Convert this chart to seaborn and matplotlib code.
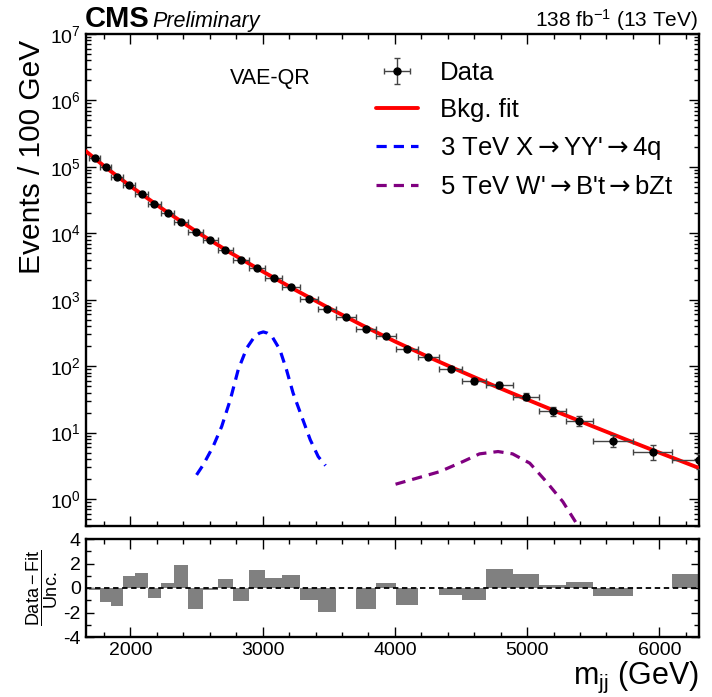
import numpy as np
import pandas as pd
import seaborn as sns
import matplotlib
matplotlib.use("Agg")
import matplotlib.pyplot as plt
from matplotlib.ticker import LogLocator, MultipleLocator, NullFormatter, FixedLocator

# ---------------- data ----------------
bin_edges = [1687, 1770, 1856, 1945, 2037, 2132, 2231, 2332, 2438, 2546, 2659, 2775,
             2895, 3019, 3147, 3279, 3416, 3558, 3704, 3854, 4010, 4171, 4337, 4509,
             4686, 4890, 5090, 5295, 5495, 5798, 6099, 6500]
data_vals = [134800, 98630, 71400, 52790, 38620, 27960, 20450, 14960, 10570, 7815,
             5655, 3943, 3028, 2110, 1543, 1043, 729, 548, 365, 281.5, 179.2, 135.7,
             91.7, 60.4, 52.6, 34.7, 21.3, 15.2, 7.60, 5.19, 3.85]
data_errs = [403, 339, 283, 240, 202, 168, 142, 119, 99, 83, 70, 57, 49, 40.6, 34.2,
             27.6, 22.7, 19.4, 15.6, 13.4, 10.55, 9.04, 7.30, 5.84, 5.08, 4.17, 3.22,
             2.76, 1.58, 1.31, 0.98]
residuals = [-0.2, -1.15, -1.5, 0.95, 1.2, -0.8, 0.4, 1.9, -1.75, -0.2, 0.75, -1.05,
             1.5, 0.8, 1.1, -0.95, -1.92, 0.02, -1.73, 0.41, -1.37, 0.02, -0.55, -1.01,
             1.56, 1.15, 0.27, 0.47, -0.68, 0.02, 1.15]

fit_mass = [1660, 1800, 1900, 2000, 2250, 2500, 2750, 3000, 3250, 3500, 3750, 4000,
            4250, 4500, 4750, 5000, 5250, 5500, 5750, 6000, 6300]
fit_vals = [173900, 103100, 72400, 51220, 22730, 10576, 5181, 2667, 1396, 753, 416,
            235.9, 138.8, 83.3, 50.8, 31.5, 19.67, 12.37, 7.83, 4.996, 2.935]

sig3_mass = [2500, 2550, 2625, 2690, 2755, 2815, 2880, 2940, 2975, 3005, 3035, 3070,
             3130, 3180, 3230, 3295, 3360, 3420, 3475]
sig3_vals = [2.31, 3.27, 6.17, 12.36, 31.2, 88.6, 188, 281.5, 314.6, 328, 314.6, 281.5,
             177.4, 88.6, 39.4, 17.5, 7.79, 4.36, 3.19]

sig5_mass = [4005, 4165, 4340, 4515, 4640, 4780, 4890, 5020, 5145, 5270, 5370, 5420]
sig5_vals = [1.672, 2.06, 2.59, 3.67, 4.79, 5.19, 4.79, 3.47, 1.83, 0.914, 0.441, 0.203]

x_ticks = [2000, 3000, 4000, 5000, 6000]

# ---------------- style ----------------
sns.set_style("ticks")
plt.rcParams["font.family"] = ["Liberation Sans", "DejaVu Sans"]
plt.rcParams["mathtext.fontset"] = "custom"
plt.rcParams["mathtext.rm"] = "Liberation Sans"
plt.rcParams["mathtext.it"] = "Liberation Sans:italic"
plt.rcParams["mathtext.bf"] = "Liberation Sans:bold"
plt.rcParams["mathtext.sf"] = "DejaVu Sans"
plt.rcParams["axes.unicode_minus"] = False
plt.rcParams["text.color"] = "black"
plt.rcParams["axes.labelcolor"] = "black"
plt.rcParams["xtick.color"] = "black"
plt.rcParams["ytick.color"] = "black"
plt.rcParams["axes.edgecolor"] = "black"
plt.rcParams["axes.linewidth"] = 1.7

edges = np.array(bin_edges, dtype=float)
centers = 0.5 * (edges[:-1] + edges[1:])
lo = centers - edges[:-1]
hi = edges[1:] - centers
widths = edges[1:] - edges[:-1]

W, H = 712, 697
fig = plt.figure(figsize=(W / 100, H / 100), dpi=100)
ax = fig.add_axes([85.5 / W, 1 - 525.5 / H, (699 - 85.5) / W, (525.5 - 34) / H])
ax2 = fig.add_axes([85.5 / W, 1 - 637 / H, (699 - 85.5) / W, (637 - 539) / H])

df_fit = pd.DataFrame({"m": fit_mass, "v": fit_vals})
df_s3 = pd.DataFrame({"m": sig3_mass, "v": sig3_vals})
df_s5 = pd.DataFrame({"m": sig5_mass, "v": sig5_vals})

arr = r"$\mathsf{\rightarrow}$"
lab_fit = "Bkg. fit"
lab_s3 = "3 TeV X" + arr + "YY'" + arr + "4q"
lab_s5 = "5 TeV W'" + arr + "B't" + arr + "bZt"

sns.lineplot(data=df_fit, x="m", y="v", ax=ax, color="#ff0000", lw=2.8,
             estimator=None, sort=False, label=lab_fit, zorder=3)
sns.lineplot(data=df_s3, x="m", y="v", ax=ax, color="#0000ff", lw=2.3,
             estimator=None, sort=False, label=lab_s3,
             linestyle=(0, (3.2, 2.2)), zorder=2)
sns.lineplot(data=df_s5, x="m", y="v", ax=ax, color="#800080", lw=2.3,
             estimator=None, sort=False, label=lab_s5,
             linestyle=(0, (3.2, 2.2)), zorder=2)
h_data = ax.errorbar(centers, data_vals, xerr=[lo, hi], yerr=data_errs, fmt="o",
                     color="black", ms=5.0, ecolor="#444444", elinewidth=1.0,
                     capsize=2.0, capthick=1.0, zorder=5, label="Data")

ax.set_yscale("log")
ax.set_xlim(1660, 6300)
ax.set_ylim(0.4, 1e7)
ax.set_xlabel("")
ax.set_ylabel("")
ax.xaxis.set_major_locator(FixedLocator(x_ticks))
ax.xaxis.set_minor_locator(MultipleLocator(200))
ax.xaxis.set_major_formatter(NullFormatter())
ax.yaxis.set_major_locator(LogLocator(base=10, numticks=20))
ax.yaxis.set_minor_locator(LogLocator(base=10, subs=np.arange(2, 10) * 1.0, numticks=20))
ax.yaxis.set_minor_formatter(NullFormatter())
ax.tick_params(which="both", direction="in", top=True, right=True, width=1.0)
ax.tick_params(which="major", length=7.5, labelsize=14)
ax.tick_params(which="minor", length=3.8)
for s in ax.spines.values():
    s.set_linewidth(1.7)

fig.text(32 / W, 1 - 40 / H, "Events / 100 GeV", fontsize=21.5, rotation=90,
         ha="center", va="top")

handles, labels = ax.get_legend_handles_labels()
order = ["Data", lab_fit, lab_s3, lab_s5]
hmap = dict(zip(labels, handles))
ax.legend([hmap[k] for k in order], order, loc="upper left",
          bbox_to_anchor=(376 / W, 1 - 61 / H), bbox_transform=fig.transFigure,
          frameon=False, fontsize=18.5, handlelength=1.65, handletextpad=0.85,
          labelspacing=0.5, borderpad=0, borderaxespad=0)

ax.text(0.235, 0.91, "VAE-QR", transform=ax.transAxes, fontsize=15.5,
        ha="left", va="center")

fig.text(85 / W, 1 - 27 / H, "CMS", fontsize=21, fontweight="bold", ha="left",
         va="baseline")
fig.text(152 / W, 1 - 27 / H, "Preliminary", fontsize=15.5, style="italic",
         ha="left", va="baseline")
fig.text(698 / W, 1 - 27 / H, "138 fb$^{-1}$ (13 TeV)", fontsize=15, ha="right",
         va="baseline")

# ---------------- ratio panel ----------------
ax2.bar(edges[:-1], residuals, width=widths, align="edge", color="#808080",
        linewidth=0, zorder=2)
ax2.axhline(0, color="black", lw=1.3, ls=(0, (3, 2)), zorder=3)
ax2.set_xlim(1660, 6300)
ax2.set_ylim(-4, 4)
ax2.xaxis.set_major_locator(FixedLocator(x_ticks))
ax2.xaxis.set_minor_locator(MultipleLocator(200))
ax2.yaxis.set_major_locator(FixedLocator([-4, -2, 0, 2, 4]))
ax2.yaxis.set_minor_locator(FixedLocator([-3, -1, 1, 3]))
ax2.tick_params(which="both", direction="in", top=True, right=True, width=1.0)
ax2.tick_params(which="major", length=6, labelsize=14)
ax2.tick_params(axis="x", which="major", length=7.5)
ax2.tick_params(which="minor", length=3.5)
for s in ax2.spines.values():
    s.set_linewidth(1.7)
ax2.set_ylabel("")
ax2.text(-0.071, 0.5, r"$\dfrac{\mathrm{Data}-\mathrm{Fit}}{\mathrm{Unc.}}$",
         transform=ax2.transAxes, fontsize=13, rotation=90, ha="center",
         va="center")
ax2.set_xlabel(r"m$_{\mathrm{jj}}$ (GeV)", fontsize=22, loc="right")
ax2.xaxis.set_label_coords(1.0, -0.23)

fig.savefig("out.png", dpi=100)
